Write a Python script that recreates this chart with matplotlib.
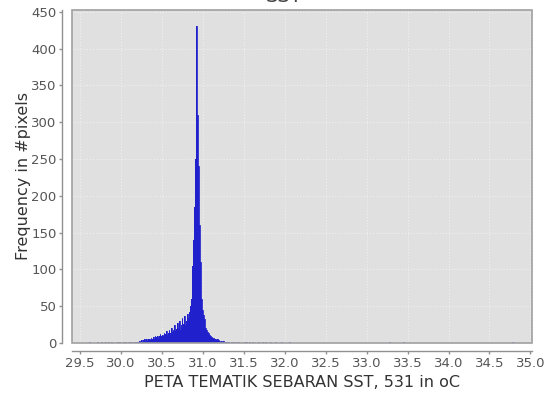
import matplotlib
matplotlib.use("Agg")
from matplotlib import pyplot as plt
from matplotlib.patches import Rectangle
import numpy as np

# histogram bins (left edges, width 0.01 oC) and pixel counts
bin_width = 0.01
core_start = 30.20
core_counts = [
    2, 1, 3, 2, 4, 3, 2, 4, 5, 3,
    4, 5, 3, 6, 5, 4, 7, 6, 5, 8,
    6, 9, 7, 8, 10, 7, 9, 12, 8, 10,
    11, 9, 14, 10, 12, 16, 11, 13, 18, 12,
    14, 20, 15, 17, 13, 24, 16, 19, 27, 17,
    20, 30, 18, 24, 34, 22, 26, 36, 25, 30,
    33, 40, 34, 42, 50, 60, 78, 105, 140, 185,
    250, 381, 431, 310, 240, 160, 110, 80, 60, 45,
    38, 32, 26, 21, 17, 15, 13, 11, 10, 9,
    8, 7, 7, 6, 6, 5, 4, 5, 4, 4,
    3, 2, 3, 2, 2, 3, 1, 2, 2, 1,
]
tail_bins = [29.61, 29.71, 29.76, 29.80, 29.84, 29.88, 29.92, 29.95, 29.98,
             30.02, 30.05, 30.08, 30.10, 30.12, 30.14, 30.16, 30.18,
             31.31, 31.34, 31.37, 31.40, 31.43, 31.46, 31.50, 31.53, 31.56,
             31.60, 31.63, 31.67, 31.72, 31.76, 31.82, 31.88, 31.95, 32.05,
             33.27, 33.45, 34.78]
tail_counts = [1, 1, 1, 1, 1, 1, 1, 1, 1,
               1, 2, 1, 2, 1, 2, 2, 1,
               2, 1, 2, 1, 2, 1, 2, 1, 1,
               2, 1, 1, 1, 1, 1, 1, 1, 1,
               1, 1, 1]

core_edges = core_start + bin_width * np.arange(len(core_counts) + 1)

x_ticks = np.arange(29.5, 35.01, 0.5)
y_ticks = np.arange(0, 451, 50)

fig = plt.figure(figsize=(5.52, 3.99), dpi=100)
ax = fig.add_axes([72 / 552, 56 / 399, 460 / 552, 333.5 / 399])
ax.set_facecolor('#e0e0e0')

bar_color = '#2020cc'
ax.stairs(core_counts, core_edges, fill=True, color=bar_color, zorder=3)
ax.stairs(core_counts, core_edges, fill=False, color=bar_color, linewidth=0.6, zorder=3)
ax.bar(tail_bins, tail_counts, width=bin_width, align='edge', color=bar_color,
       edgecolor=bar_color, linewidth=0.5, zorder=3)

ax.set_xlim(29.40, 35.02)
ax.set_ylim(0, 453)
ax.set_xticks(x_ticks)
ax.set_xticklabels(['%.1f' % t for t in x_ticks])
ax.set_yticks(y_ticks)

ax.grid(True, color='#f2f2f2', linestyle=(0, (1, 2)), linewidth=0.7, zorder=1)
ax.set_axisbelow(True)

for side in ['top', 'right']:
    ax.spines[side].set_visible(False)
ax.spines['left'].set_position(('outward', 7))
ax.spines['bottom'].set_position(('outward', 6))
for side in ['left', 'bottom']:
    ax.spines[side].set_color('#909090')
    ax.spines[side].set_linewidth(1)

ax.add_patch(Rectangle((0, 0), 1, 1, transform=ax.transAxes, fill=False,
                       edgecolor='#a0a0a0', linewidth=1.2, clip_on=False, zorder=5))

ax.tick_params(axis='both', colors='#909090', length=2, width=1, labelsize=9.5,
               labelcolor='#555555', pad=2)

ax.set_xlabel('PETA TEMATIK SEBARAN SST, 531 in oC', fontsize=11.5, color='#333333',
              labelpad=4)
ax.set_ylabel('Frequency in #pixels', fontsize=11.5, color='#333333', labelpad=0)

fig.text(284 / 552, 1 - 2 / 399, 'SST', ha='center', va='baseline', fontsize=14,
         color='#444444')

fig.savefig('out.png', dpi=100)
plt.close(fig)
